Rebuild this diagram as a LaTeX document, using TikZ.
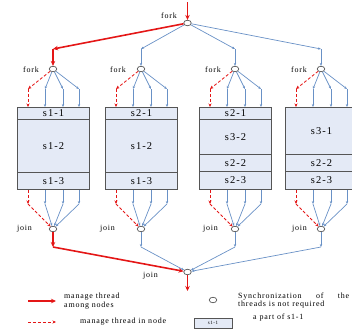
\documentclass[tikz,border=0pt]{standalone}
\usepackage{fontspec}
\setmainfont{Liberation Serif}
\newfontfamily\lblfont[LetterSpace=10]{Liberation Serif}
\usetikzlibrary{arrows.meta,shapes.geometric}
\definecolor{lnblue}{RGB}{105,145,198}
\definecolor{boxfill}{RGB}{228,234,246}
\definecolor{lnred}{RGB}{228,22,22}
\definecolor{boxline}{RGB}{85,85,85}
\tikzset{
  bl/.style={draw=lnblue, line width=0.7pt, -{Stealth[length=3pt,width=2.4pt]}},
  rd/.style={draw=lnred, line width=1.6pt, -{Stealth[length=5pt,width=4.5pt]}},
  rdd/.style={draw=lnred, line width=0.85pt, dash pattern=on 3pt off 2pt, -{Stealth[length=3.5pt,width=3pt]}},
  sync/.style={ellipse, draw=boxline, fill=white, line width=0.7pt, minimum width=7.5bp, minimum height=5.5bp, inner sep=0pt},
  lbl/.style={font=\lblfont\fontsize{8}{9}\selectfont, inner sep=0pt},
  part/.style={draw=boxline, line width=1pt, fill=boxfill, inner sep=0pt, minimum width=72bp, anchor=north west, font=\lblfont\fontsize{10.5}{11}\selectfont},
}
\begin{document}
\begin{tikzpicture}[x=1bp,y=-1bp]
\useasboundingbox (0,0) rectangle (352,329);
\clip (0,0) rectangle (352,329);

% top fork
\node[sync] (F0) at (187.5,23) {};
\coordinate (Fin) at (187.5,2);
\node[lbl, anchor=east] (F0l) at (177,16) {fork};

% bottom join
\node[sync] (J0) at (187.5,272) {};
\coordinate (Jout) at (187.5,291);
\node[lbl, anchor=east] (J0l) at (158,276) {join};

% boxes
\node[part, minimum height=12bp] (T1) at (17,107) {s1-1};
\node[part, minimum height=53bp] (M1) at (17,119) {s1-2};
\node[part, minimum height=17bp] (E1) at (17,172) {s1-3};

\node[part, minimum height=12bp] (T2) at (105,107) {s2-1};
\node[part, minimum height=53bp] (M2) at (105,119) {s1-2};
\node[part, minimum height=17bp] (E2) at (105,172) {s1-3};

\node[part, minimum height=12bp] (T3) at (199,107) {s2-1};
\node[part, minimum height=35bp] (M3) at (199,119) {s3-2};
\node[part, minimum height=17bp] (N3) at (199,154) {s2-2};
\node[part, minimum height=18bp] (E3) at (199,171) {s2-3};

\node[part, minimum height=47bp] (T4) at (285,107) {s3-1};
\node[part, minimum height=17bp] (N4) at (285,154) {s2-2};
\node[part, minimum height=18bp] (E4) at (285,171) {s2-3};

% forks, joins, labels, bend points
\foreach \i/\L/\fl/\jl in {1/17/39/32, 2/105/126/115, 3/199/221/218, 4/285/307/307} {
  \pgfmathsetmacro\C{\L+36}
  \node[sync] (f\i) at (\C,69) {};
  \node[sync] (j\i) at (\C,229) {};
  \coordinate (c\i) at (\C,49);
  \coordinate (d\i) at (\C,247);
  \node[lbl,anchor=east] (fl\i) at (\fl,70) {fork};
  \node[lbl,anchor=east] (jl\i) at (\jl,229) {join};
  \foreach \k/\dx in {a/11,b/28,c/46,d/62} {
    \coordinate (t\k\i) at ({\L+\dx},89);
    \coordinate (w\k\i) at ({\L+\dx},204);
  }
}

% connectors among nodes
\draw[rd] (Fin) -- (F0);
\draw[rd] (F0) -- (c1);
\draw[rd] (c1) -- (f1);
\foreach \i in {2,3,4} {
  \draw[bl] (F0) -- (c\i);
  \draw[bl] (c\i) -- (f\i);
}
\foreach \i in {1,...,4} {
  \draw[rdd] (f\i) -- (ta\i);
  \draw[rdd] (ta\i) -- (ta\i |- T\i.north);
  \draw[rdd] (wa\i |- E\i.south) -- (wa\i);
  \draw[rdd] (wa\i) -- (j\i);
  \foreach \k in {b,c,d} {
    \draw[bl] (f\i) -- (t\k\i);
    \draw[bl] (t\k\i) -- (t\k\i |- T\i.north);
    \draw[bl] (w\k\i |- E\i.south) -- (w\k\i);
    \draw[bl] (w\k\i) -- (j\i);
  }
}
\draw[rd] (j1) -- (d1);
\draw[rd] (d1) -- (J0);
\foreach \i in {2,3,4} {
  \draw[bl] (j\i) -- (d\i);
  \draw[bl] (d\i) -- (J0);
}
\draw[rd] (J0) -- (Jout);

% legend
\coordinate (La1) at (28,301);
\coordinate (La2) at (56,301);
\draw[rd, line width=1.2pt] (La1) -- (La2);
\node[lbl, anchor=west, align=left] (Lat) at (64,301.5) {manage thread\\among nodes};
\node[sync] (Ls) at (213,300) {};
\node[lbl, anchor=west] (Lst1) at (238,297) {\makebox[111bp][s]{Synchronization of the}};
\node[lbl, anchor=west] (Lst2) at (238,305) {threads is not required};
\coordinate (Lb1) at (28,322);
\coordinate (Lb2) at (56,322);
\draw[rdd] (Lb1) -- (Lb2);
\node[lbl, anchor=west] (Lbt) at (80,322) {manage thread in node};
\node[part, anchor=center, minimum width=38bp, minimum height=10bp, line width=0.8pt, font=\lblfont\fontsize{5}{5}\selectfont] (Lp) at (213,323) {s1-1};
\node[lbl, anchor=west] (Lpt) at (253,318) {a part of s1-1};
\end{tikzpicture}
\end{document}
